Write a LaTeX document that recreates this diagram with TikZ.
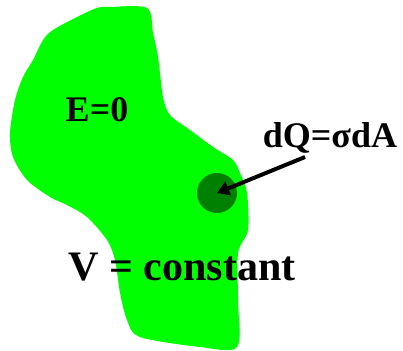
\documentclass[tikz,border=0pt]{standalone}
\usepackage{fontspec}
\setmainfont{Liberation Serif}
\usetikzlibrary{arrows.meta}
\definecolor{blobgreen}{RGB}{0,255,0}
\definecolor{spotgreen}{RGB}{0,128,0}
\tikzset{
  lbl/.style={font=\bfseries, inner sep=0pt, text=black},
  pointer/.style={line width=4pt, -{Triangle[length=12pt,width=14pt]}}
}
\begin{document}
\begin{tikzpicture}[x=1pt,y=-1pt]
\useasboundingbox (0,0) rectangle (403,350);
\fill[blobgreen] plot[smooth cycle, tension=0.5] coordinates {
(110,7) (147,8) (153,33) (158,57) (163,97) (170,115) (190,130) (213,147) (233,160) (240,173) (247,193) (248,230) (238,253) (238,300) (237,347) (200,347) (140,337) (127,320) (120,293) (115,260) (107,240) (87,217) (67,205) (50,197) (27,180) (13,157) (10,133) (15,100) (23,77) (33,60) (43,40) (53,30) (77,17) (97,8)};
\node[circle, fill=spotgreen, minimum size=40pt, inner sep=0pt] (spot) at (217,193) {};
\node[lbl, font=\bfseries\fontsize{36}{36}\selectfont] (e) at (97,110) {E=0};
\node[lbl, font=\bfseries\fontsize{36}{36}\selectfont] (dq) at (330,138) {dQ=σdA};
\node[lbl, font=\bfseries\fontsize{42}{42}\selectfont] (v) at (182,267) {V = constant};
\coordinate (tail) at (305,157);
\draw[pointer] (tail) -- (spot.center);
\end{tikzpicture}
\end{document}
